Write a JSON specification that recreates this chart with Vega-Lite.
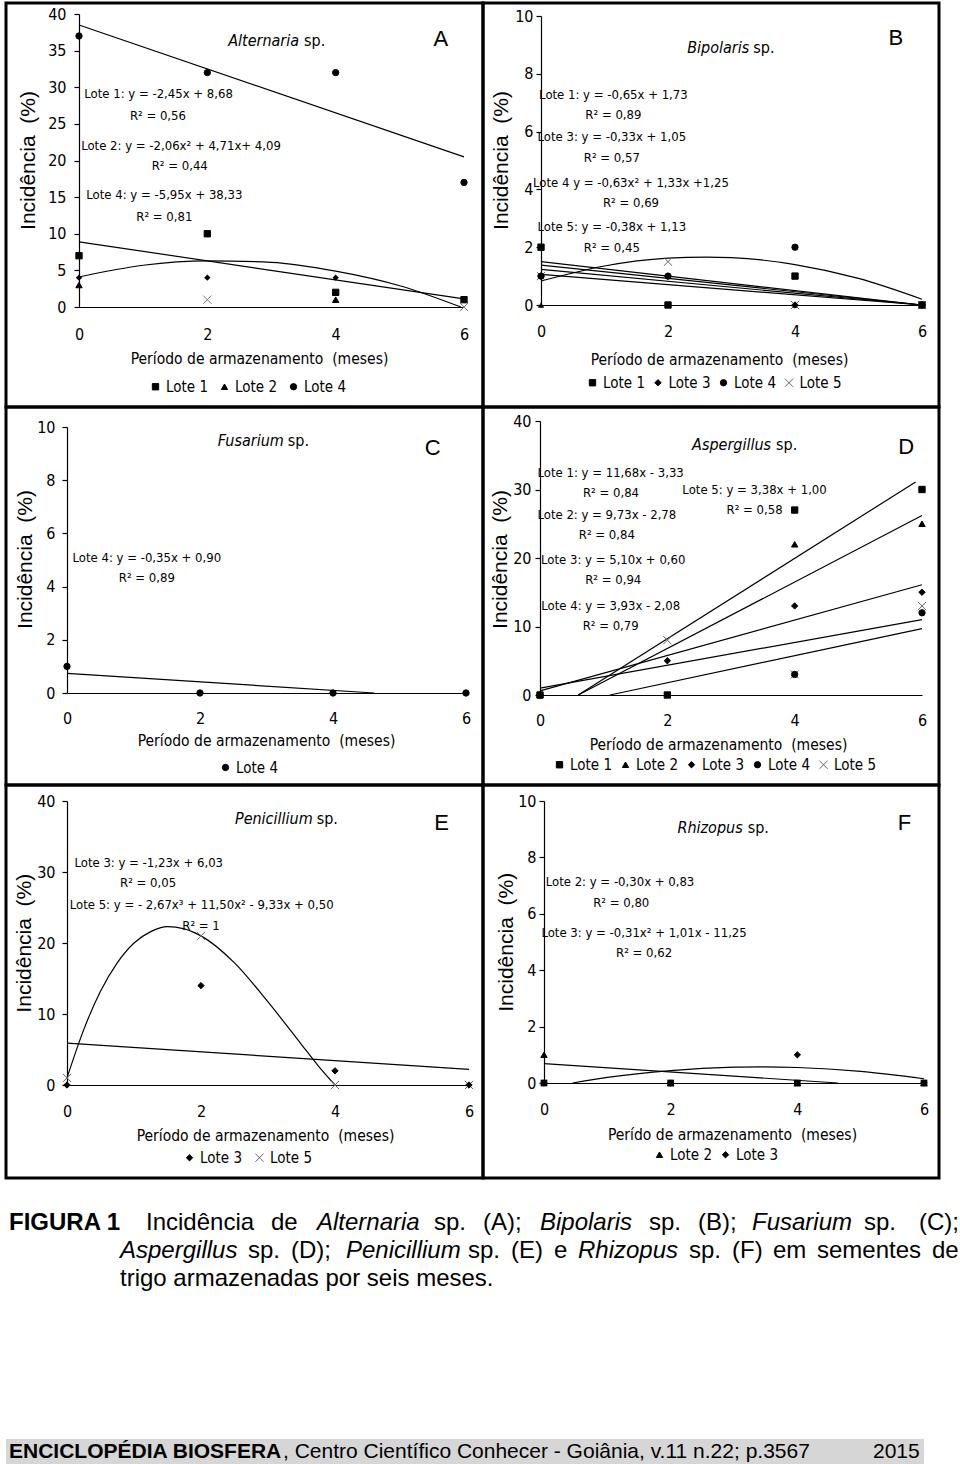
{
"$schema":"https://vega.github.io/schema/vega-lite/v6.json",
"padding":{"left":4,"top":1,"right":0,"bottom":0},
"background":"white",
"spacing":0,
"resolve":{"scale":{"shape":"independent","fill":"independent","stroke":"independent"},"legend":{"shape":"independent","fill":"independent","stroke":"independent"}},
"config":{
"view":{"stroke":"black","strokeWidth":3},
"axis":{"grid":false,"domainColor":"black","domainWidth":1.2,"tickColor":"black","tickWidth":1.2,"labelFont":"DejaVu Sans Condensed, sans-serif","labelFontSize":16,"labelColor":"black","titleFont":"DejaVu Sans Condensed, sans-serif","titleFontSize":15.5,"titleFontWeight":"normal","titleColor":"black","labelOverlap":false},
"axisX":{"ticks":false,"tickSize":0,"labelBaseline":"middle","labelAlign":"center","labelFlush":false,"titleBaseline":"middle","titleAlign":"center"},
"axisY":{"tickSize":5,"labelAlign":"right","labelBaseline":"middle","titleFont":"Liberation Sans, Arial, sans-serif","titleFontSize":21,"titleBaseline":"middle","titleAlign":"center","titleAngle":270},
"legend":{"labelFont":"DejaVu Sans Condensed, sans-serif","labelFontSize":15,"labelColor":"black","symbolSize":40,"symbolStrokeWidth":1,"labelOffset":3,"padding":0,"rowPadding":0},
"text":{"color":"black"}
},
"datasets":{
"A_pts":[
{"lote":"Lote 3","mes":0,"inc":4},{"lote":"Lote 3","mes":2,"inc":4},{"lote":"Lote 3","mes":4,"inc":4},
{"lote":"Lote 5","mes":2,"inc":1},{"lote":"Lote 5","mes":6,"inc":0},
{"lote":"Lote 2","mes":0,"inc":3},{"lote":"Lote 2","mes":4,"inc":1},
{"lote":"Lote 4","mes":0,"inc":37},{"lote":"Lote 4","mes":2,"inc":32},{"lote":"Lote 4","mes":4,"inc":32},{"lote":"Lote 4","mes":6,"inc":17},
{"lote":"Lote 1","mes":0,"inc":7},{"lote":"Lote 1","mes":2,"inc":10},{"lote":"Lote 1","mes":4,"inc":2},{"lote":"Lote 1","mes":6,"inc":1}
],
"A_fit":[
{"curva":"L4","mes":0,"inc":38.5},{"curva":"L4","mes":6,"inc":20.5},
{"curva":"L1","mes":0,"inc":8.9},{"curva":"L1","mes":6,"inc":1.1},
{"curva":"L2","mes":0,"inc":4.1},{"curva":"L2","mes":1,"inc":5.7},{"curva":"L2","mes":2,"inc":6.3},{"curva":"L2","mes":3,"inc":6.1},{"curva":"L2","mes":4,"inc":4.9},{"curva":"L2","mes":5,"inc":2.9},{"curva":"L2","mes":5.95,"inc":0}
],
"A_txt":[
{"tipo":"eq","txt":"Lote 1: y = -2,45x + 8,68","mes":1.24,"inc":29.1},
{"tipo":"eq","txt":"R² = 0,56","mes":1.23,"inc":26.1},
{"tipo":"eq","txt":"Lote 2: y = -2,06x² + 4,71x+ 4,09","mes":1.59,"inc":22.0},
{"tipo":"eq","txt":"R² = 0,44","mes":1.57,"inc":19.25},
{"tipo":"eq","txt":"Lote 4: y = -5,95x + 38,33","mes":1.33,"inc":15.3},
{"tipo":"eq","txt":"R² = 0,81","mes":1.33,"inc":12.3},
{"tipo":"gen","txt":"Alternaria","mes":3.43,"inc":36.3},
{"tipo":"letra","txt":"A","mes":5.64,"inc":36.6}
],
"B_pts":[
{"lote":"Lote 2","mes":0,"inc":0},{"lote":"Lote 2","mes":4,"inc":0},
{"lote":"Lote 5","mes":0,"inc":1},{"lote":"Lote 5","mes":2,"inc":1.5},{"lote":"Lote 5","mes":4,"inc":0},{"lote":"Lote 5","mes":6,"inc":0},
{"lote":"Lote 3","mes":0,"inc":1},{"lote":"Lote 3","mes":2,"inc":1},{"lote":"Lote 3","mes":4,"inc":0},{"lote":"Lote 3","mes":6,"inc":0},
{"lote":"Lote 4","mes":0,"inc":1},{"lote":"Lote 4","mes":2,"inc":1},{"lote":"Lote 4","mes":4,"inc":2},{"lote":"Lote 4","mes":6,"inc":0},
{"lote":"Lote 1","mes":0,"inc":2},{"lote":"Lote 1","mes":2,"inc":0},{"lote":"Lote 1","mes":4,"inc":1},{"lote":"Lote 1","mes":6,"inc":0}
],
"B_fit":[
{"curva":"L1","mes":0,"inc":1.5},{"curva":"L1","mes":6,"inc":0},
{"curva":"L2","mes":0,"inc":1.38},{"curva":"L2","mes":6,"inc":0},
{"curva":"L3","mes":0,"inc":1.23},{"curva":"L3","mes":6,"inc":0},
{"curva":"L4","mes":0,"inc":1.06},{"curva":"L4","mes":6,"inc":0},
{"curva":"C","mes":0,"inc":0.83},{"curva":"C","mes":1,"inc":1.35},{"curva":"C","mes":2,"inc":1.62},{"curva":"C","mes":2.6,"inc":1.66},{"curva":"C","mes":3,"inc":1.64},{"curva":"C","mes":4,"inc":1.4},{"curva":"C","mes":5,"inc":0.92},{"curva":"C","mes":6,"inc":0.2}
],
"B_txt":[
{"tipo":"eq","txt":"Lote 1: y = -0,65x + 1,73","mes":1.14,"inc":7.27},
{"tipo":"eq","txt":"R² = 0,89","mes":1.14,"inc":6.57},
{"tipo":"eq","txt":"Lote 3: y = -0,33x + 1,05","mes":1.115,"inc":5.81},
{"tipo":"eq","txt":"R² = 0,57","mes":1.115,"inc":5.09},
{"tipo":"eq","txt":"Lote 4 y = -0,63x² + 1,33x +1,25","mes":1.417,"inc":4.22},
{"tipo":"eq","txt":"R² = 0,69","mes":1.417,"inc":3.53},
{"tipo":"eq","txt":"Lote 5: y = -0,38x + 1,13","mes":1.115,"inc":2.7},
{"tipo":"eq","txt":"R² = 0,45","mes":1.115,"inc":1.97},
{"tipo":"gen","txt":"Bipolaris","mes":3.28,"inc":8.89},
{"tipo":"letra","txt":"B","mes":5.59,"inc":9.24}
],
"C_pts":[
{"lote":"Lote 4","mes":0,"inc":1},{"lote":"Lote 4","mes":2,"inc":0},{"lote":"Lote 4","mes":4,"inc":0},{"lote":"Lote 4","mes":6,"inc":0}
],
"C_fit":[
{"curva":"L4","mes":0,"inc":0.74},{"curva":"L4","mes":4.62,"inc":0}
],
"C_txt":[
{"tipo":"eq","txt":"Lote 4: y = -0,35x + 0,90","mes":1.2,"inc":5.08},
{"tipo":"eq","txt":"R² = 0,89","mes":1.2,"inc":4.32},
{"tipo":"gen","txt":"Fusarium","mes":3.26,"inc":9.47},
{"tipo":"letra","txt":"C","mes":5.5,"inc":9.21}
],
"D_pts":[
{"lote":"Lote 5","mes":2,"inc":8},{"lote":"Lote 5","mes":4,"inc":3},{"lote":"Lote 5","mes":6,"inc":13},
{"lote":"Lote 4","mes":0,"inc":0},{"lote":"Lote 4","mes":4,"inc":3},{"lote":"Lote 4","mes":6,"inc":12},
{"lote":"Lote 3","mes":0,"inc":0},{"lote":"Lote 3","mes":2,"inc":5},{"lote":"Lote 3","mes":4,"inc":13},{"lote":"Lote 3","mes":6,"inc":15},
{"lote":"Lote 2","mes":0,"inc":0},{"lote":"Lote 2","mes":4,"inc":22},{"lote":"Lote 2","mes":6,"inc":25},
{"lote":"Lote 1","mes":0,"inc":0},{"lote":"Lote 1","mes":2,"inc":0},{"lote":"Lote 1","mes":4,"inc":27},{"lote":"Lote 1","mes":6,"inc":30}
],
"D_fit":[
{"curva":"L1","mes":0.6,"inc":0},{"curva":"L1","mes":5.9,"inc":31.1},
{"curva":"L2","mes":0.6,"inc":0},{"curva":"L2","mes":6,"inc":26.2},
{"curva":"L3","mes":0,"inc":0.6},{"curva":"L3","mes":6,"inc":16.1},
{"curva":"L4","mes":1.1,"inc":0},{"curva":"L4","mes":6,"inc":9.7},
{"curva":"L5","mes":0,"inc":1.0},{"curva":"L5","mes":6,"inc":11.0}
],
"D_txt":[
{"tipo":"eq","txt":"Lote 1: y = 11,68x - 3,33","mes":1.11,"inc":32.45},
{"tipo":"eq","txt":"R² = 0,84","mes":1.115,"inc":29.53},
{"tipo":"eq","txt":"Lote 2: y = 9,73x - 2,78","mes":1.05,"inc":26.28},
{"tipo":"eq","txt":"R² = 0,84","mes":1.05,"inc":23.36},
{"tipo":"eq","txt":"Lote 3: y = 5,10x + 0,60","mes":1.15,"inc":19.71},
{"tipo":"eq","txt":"R² = 0,94","mes":1.15,"inc":16.79},
{"tipo":"eq","txt":"Lote 4: y = 3,93x - 2,08","mes":1.11,"inc":12.99},
{"tipo":"eq","txt":"R² = 0,79","mes":1.11,"inc":10.07},
{"tipo":"eq","txt":"Lote 5: y = 3,38x + 1,00","mes":3.37,"inc":29.93},
{"tipo":"eq","txt":"R² = 0,58","mes":3.37,"inc":27.0},
{"tipo":"gen","txt":"Aspergillus","mes":3.63,"inc":36.5},
{"tipo":"letra","txt":"D","mes":5.75,"inc":36.2}
],
"E_pts":[
{"lote":"Lote 5","mes":0,"inc":1},{"lote":"Lote 5","mes":2,"inc":21},{"lote":"Lote 5","mes":4,"inc":0},{"lote":"Lote 5","mes":6,"inc":0},
{"lote":"Lote 3","mes":0,"inc":0},{"lote":"Lote 3","mes":2,"inc":14},{"lote":"Lote 3","mes":4,"inc":2},{"lote":"Lote 3","mes":6,"inc":0}
],
"E_fit":[
{"curva":"L3","mes":0,"inc":5.9},{"curva":"L3","mes":6,"inc":2.2},
{"curva":"L5","mes":0,"inc":1},{"curva":"L5","mes":0.25,"inc":7.8},{"curva":"L5","mes":0.5,"inc":13.2},{"curva":"L5","mes":0.75,"inc":17.2},{"curva":"L5","mes":1,"inc":20},{"curva":"L5","mes":1.25,"inc":21.6},{"curva":"L5","mes":1.5,"inc":22.3},{"curva":"L5","mes":1.75,"inc":22.0},{"curva":"L5","mes":2,"inc":21},{"curva":"L5","mes":2.5,"inc":17.2},{"curva":"L5","mes":3,"inc":11.7},{"curva":"L5","mes":3.5,"inc":5.7},{"curva":"L5","mes":3.75,"inc":2.7},{"curva":"L5","mes":4,"inc":0}
],
"E_txt":[
{"tipo":"eq","txt":"Lote 3: y = -1,23x + 6,03","mes":1.22,"inc":31.31},
{"tipo":"eq","txt":"R² = 0,05","mes":1.21,"inc":28.41},
{"tipo":"eq","txt":"Lote 5: y = - 2,67x³ + 11,50x² - 9,33x + 0,50","mes":2.01,"inc":25.31},
{"tipo":"eq","txt":"R² = 1","mes":2.0,"inc":22.39},
{"tipo":"gen","txt":"Penicillium","mes":3.667,"inc":37.46},
{"tipo":"letra","txt":"E","mes":5.59,"inc":36.9}
],
"F_pts":[
{"lote":"Lote 2","mes":0,"inc":1},{"lote":"Lote 2","mes":2,"inc":0},{"lote":"Lote 2","mes":4,"inc":0},{"lote":"Lote 2","mes":6,"inc":0},
{"lote":"Lote 3","mes":0,"inc":0},{"lote":"Lote 3","mes":2,"inc":0},{"lote":"Lote 3","mes":4,"inc":1},{"lote":"Lote 3","mes":6,"inc":0},
{"lote":"Lote 1","mes":0,"inc":0},{"lote":"Lote 1","mes":2,"inc":0},{"lote":"Lote 1","mes":4,"inc":0},{"lote":"Lote 1","mes":6,"inc":0}
],
"F_fit":[
{"curva":"L2","mes":0,"inc":0.69},{"curva":"L2","mes":4.64,"inc":0},
{"curva":"L3","mes":0.45,"inc":0},{"curva":"L3","mes":1,"inc":0.2},{"curva":"L3","mes":2,"inc":0.44},{"curva":"L3","mes":3,"inc":0.56},{"curva":"L3","mes":3.4,"inc":0.575},{"curva":"L3","mes":4,"inc":0.55},{"curva":"L3","mes":5,"inc":0.41},{"curva":"L3","mes":6,"inc":0.15}
],
"F_txt":[
{"tipo":"eq","txt":"Lote 2: y = -0,30x + 0,83","mes":1.2,"inc":7.13},
{"tipo":"eq","txt":"R² = 0,80","mes":1.22,"inc":6.39},
{"tipo":"eq","txt":"Lote 3: y = -0,31x² + 1,01x - 11,25","mes":1.58,"inc":5.33},
{"tipo":"eq","txt":"R² = 0,62","mes":1.58,"inc":4.62},
{"tipo":"gen","txt":"Rhizopus","mes":3.137,"inc":9.05},
{"tipo":"letra","txt":"F","mes":5.69,"inc":9.21}
],
"cap":[
{"txt":"FIGURA 1","pos":8,"linha":1,"estilo":"b"},
{"txt":"Incidência","pos":145,"linha":1,"estilo":"n"},
{"txt":"de","pos":270,"linha":1,"estilo":"n"},
{"txt":"Alternaria","pos":316,"linha":1,"estilo":"i"},
{"txt":"sp.","pos":433,"linha":1,"estilo":"n"},
{"txt":"(A);","pos":482,"linha":1,"estilo":"n"},
{"txt":"Bipolaris","pos":539,"linha":1,"estilo":"i"},
{"txt":"sp.","pos":648,"linha":1,"estilo":"n"},
{"txt":"(B);","pos":697,"linha":1,"estilo":"n"},
{"txt":"Fusarium","pos":751,"linha":1,"estilo":"i"},
{"txt":"sp.","pos":863,"linha":1,"estilo":"n"},
{"txt":"(C);","pos":918,"linha":1,"estilo":"n"},
{"txt":"Aspergillus","pos":119,"linha":2,"estilo":"i"},
{"txt":"sp.","pos":247,"linha":2,"estilo":"n"},
{"txt":"(D);","pos":290,"linha":2,"estilo":"n"},
{"txt":"Penicillium","pos":345,"linha":2,"estilo":"i"},
{"txt":"sp.","pos":467,"linha":2,"estilo":"n"},
{"txt":"(E)","pos":510,"linha":2,"estilo":"n"},
{"txt":"e","pos":553,"linha":2,"estilo":"n"},
{"txt":"Rhizopus","pos":577,"linha":2,"estilo":"i"},
{"txt":"sp.","pos":688,"linha":2,"estilo":"n"},
{"txt":"(F)","pos":731,"linha":2,"estilo":"n"},
{"txt":"em","pos":772,"linha":2,"estilo":"n"},
{"txt":"sementes","pos":816,"linha":2,"estilo":"n"},
{"txt":"de","pos":931,"linha":2,"estilo":"n"},
{"txt":"trigo armazenadas por seis meses.","pos":119,"linha":3,"estilo":"n"}
],
"rodape":[
{"txt":"ENCICLOPÉDIA BIOSFERA","pos":8,"linha":1,"estilo":"fb"},
{"txt":", Centro Científico Conhecer - Goiânia, v.11 n.22; p.3567","pos":282,"linha":1,"estilo":"fn"},
{"txt":"2015","pos":872,"linha":1,"estilo":"fn"}
]
},
"vconcat":[
{"columns":2,"spacing":0,"bounds":"flush","align":"each",
"resolve":{"scale":{"shape":"independent","fill":"independent","stroke":"independent"},"legend":{"shape":"independent","fill":"independent","stroke":"independent"}},
"concat":[
{"width":477,"height":404,
"encoding":{
"x":{"field":"mes","type":"quantitative","scale":{"domain":[0,6],"range":[73,458],"nice":false,"zero":false},"axis":{"values":[0,2,4,6],"offset":-100,"labelPadding":27,"title":"Período de armazenamento\u00a0 (meses)","titleX":253,"titleY":51}},
"y":{"field":"inc","type":"quantitative","scale":{"domain":[0,40],"range":[304,11],"nice":false,"zero":false},"axis":{"values":[0,5,10,15,20,25,30,35,40],"offset":-73,"labelPadding":8,"title":"Incidência\u00a0 (%)","titleX":-51,"titleY":157}}
},
"layer":[
{"data":{"name":"A_fit"},"mark":{"type":"line","color":"black","strokeWidth":1.2,"interpolate":"monotone"},"encoding":{"detail":{"field":"curva"}}},
{"data":{"name":"A_pts"},"transform":[{"filter":{"field":"lote","equal":"Lote 3"}}],"mark":{"type":"point","shape":"diamond","filled":true,"color":"black","size":40,"opacity":1}},
{"data":{"name":"A_pts"},"transform":[{"filter":{"field":"lote","equal":"Lote 5"}}],"mark":{"type":"point","shape":"M-1.3,-1.3L1.3,1.3M1.3,-1.3L-1.3,1.3","filled":false,"color":"#777777","size":40,"strokeWidth":1,"opacity":1}},
{"data":{"name":"A_pts"},"transform":[{"filter":{"field":"lote","oneOf":["Lote 1","Lote 2","Lote 4"]}}],"mark":{"type":"point","filled":true,"size":40,"opacity":1,"strokeWidth":1},
"encoding":{
"shape":{"field":"lote","type":"nominal","scale":{"domain":["Lote 1","Lote 2","Lote 4"],"range":["square","triangle-up","circle"]},"legend":{"title":null,"orient":"none","legendX":142,"legendY":376,"direction":"horizontal","columnPadding":9}},
"fill":{"field":"lote","type":"nominal","scale":{"domain":["Lote 1","Lote 2","Lote 4"],"range":["black","black","black"]},"legend":{"title":null,"orient":"none","legendX":142,"legendY":376,"direction":"horizontal","columnPadding":9}},
"stroke":{"field":"lote","type":"nominal","scale":{"domain":["Lote 1","Lote 2","Lote 4"],"range":["black","black","black"]},"legend":{"title":null,"orient":"none","legendX":142,"legendY":376,"direction":"horizontal","columnPadding":9}}
}},
{"data":{"name":"A_txt"},"transform":[{"filter":{"field":"tipo","equal":"eq"}}],"mark":{"type":"text","font":"DejaVu Sans Condensed, sans-serif","fontSize":13,"align":"center","baseline":"middle"},"encoding":{"text":{"field":"txt"}}},
{"data":{"name":"A_txt"},"transform":[{"filter":{"field":"tipo","equal":"gen"}}],"mark":{"type":"text","font":"DejaVu Sans Condensed, sans-serif","fontSize":16,"fontStyle":"italic","align":"right","baseline":"middle"},"encoding":{"text":{"field":"txt"}}},
{"data":{"name":"A_txt"},"transform":[{"filter":{"field":"tipo","equal":"gen"}}],"mark":{"type":"text","text":"sp.","font":"DejaVu Sans Condensed, sans-serif","fontSize":16,"align":"left","dx":5,"baseline":"middle"}},
{"data":{"name":"A_txt"},"transform":[{"filter":{"field":"tipo","equal":"letra"}}],"mark":{"type":"text","font":"Liberation Sans, Arial, sans-serif","fontSize":22,"align":"center","baseline":"middle"},"encoding":{"text":{"field":"txt"}}}
]},
{"width":456,"height":404,
"encoding":{
"x":{"field":"mes","type":"quantitative","scale":{"domain":[0,6],"range":[58,439],"nice":false,"zero":false},"axis":{"values":[0,2,4,6],"offset":-102,"labelPadding":26,"title":"Período de armazenamento\u00a0 (meses)","titleX":236,"titleY":54}},
"y":{"field":"inc","type":"quantitative","scale":{"domain":[0,10],"range":[302,13],"nice":false,"zero":false},"axis":{"values":[0,2,4,6,8,10],"offset":-58,"labelPadding":3,"title":"Incidência\u00a0 (%)","titleX":-40,"titleY":157}}
},
"layer":[
{"data":{"name":"B_fit"},"mark":{"type":"line","color":"black","strokeWidth":1.2,"interpolate":"monotone"},"encoding":{"detail":{"field":"curva"}}},
{"data":{"name":"B_pts"},"transform":[{"filter":{"field":"lote","equal":"Lote 2"}}],"mark":{"type":"point","shape":"triangle-up","filled":true,"color":"black","size":40,"opacity":1}},
{"data":{"name":"B_pts"},"transform":[{"filter":{"field":"lote","oneOf":["Lote 1","Lote 3","Lote 4","Lote 5"]}}],"mark":{"type":"point","filled":true,"size":40,"opacity":1,"strokeWidth":1},
"encoding":{
"shape":{"field":"lote","type":"nominal","scale":{"domain":["Lote 1","Lote 3","Lote 4","Lote 5"],"range":["square","diamond","circle","M-1.3,-1.3L1.3,1.3M1.3,-1.3L-1.3,1.3"]},"legend":{"title":null,"orient":"none","legendX":102,"legendY":372,"direction":"horizontal","columnPadding":5.5}},
"fill":{"field":"lote","type":"nominal","scale":{"domain":["Lote 1","Lote 3","Lote 4","Lote 5"],"range":["black","black","black","transparent"]},"legend":{"title":null,"orient":"none","legendX":102,"legendY":372,"direction":"horizontal","columnPadding":5.5}},
"stroke":{"field":"lote","type":"nominal","scale":{"domain":["Lote 1","Lote 3","Lote 4","Lote 5"],"range":["black","black","black","#666666"]},"legend":{"title":null,"orient":"none","legendX":102,"legendY":372,"direction":"horizontal","columnPadding":5.5}}
}},
{"data":{"name":"B_txt"},"transform":[{"filter":{"field":"tipo","equal":"eq"}}],"mark":{"type":"text","font":"DejaVu Sans Condensed, sans-serif","fontSize":13,"align":"center","baseline":"middle"},"encoding":{"text":{"field":"txt"}}},
{"data":{"name":"B_txt"},"transform":[{"filter":{"field":"tipo","equal":"gen"}}],"mark":{"type":"text","font":"DejaVu Sans Condensed, sans-serif","fontSize":16,"fontStyle":"italic","align":"right","baseline":"middle"},"encoding":{"text":{"field":"txt"}}},
{"data":{"name":"B_txt"},"transform":[{"filter":{"field":"tipo","equal":"gen"}}],"mark":{"type":"text","text":"sp.","font":"DejaVu Sans Condensed, sans-serif","fontSize":16,"align":"left","dx":4,"baseline":"middle"}},
{"data":{"name":"B_txt"},"transform":[{"filter":{"field":"tipo","equal":"letra"}}],"mark":{"type":"text","font":"Liberation Sans, Arial, sans-serif","fontSize":22,"align":"center","baseline":"middle"},"encoding":{"text":{"field":"txt"}}}
]},
{"width":477,"height":378,
"encoding":{
"x":{"field":"mes","type":"quantitative","scale":{"domain":[0,6],"range":[61,460],"nice":false,"zero":false},"axis":{"values":[0,2,4,6],"offset":-92,"labelPadding":25,"title":"Período de armazenamento\u00a0 (meses)","titleX":260,"titleY":47}},
"y":{"field":"inc","type":"quantitative","scale":{"domain":[0,10],"range":[286,20],"nice":false,"zero":false},"axis":{"values":[0,2,4,6,8,10],"offset":-61,"labelPadding":7,"title":"Incidência\u00a0 (%)","titleX":-42,"titleY":152}}
},
"layer":[
{"data":{"name":"C_fit"},"mark":{"type":"line","color":"black","strokeWidth":1.2,"interpolate":"monotone"},"encoding":{"detail":{"field":"curva"}}},
{"data":{"name":"C_pts"},"mark":{"type":"point","filled":true,"size":40,"opacity":1,"strokeWidth":1},
"encoding":{
"shape":{"field":"lote","type":"nominal","scale":{"domain":["Lote 4"],"range":["circle"]},"legend":{"title":null,"orient":"none","legendX":212,"legendY":353,"direction":"horizontal","columnPadding":9}},
"fill":{"field":"lote","type":"nominal","scale":{"domain":["Lote 4"],"range":["black"]},"legend":{"title":null,"orient":"none","legendX":212,"legendY":353,"direction":"horizontal","columnPadding":9}},
"stroke":{"field":"lote","type":"nominal","scale":{"domain":["Lote 4"],"range":["black"]},"legend":{"title":null,"orient":"none","legendX":212,"legendY":353,"direction":"horizontal","columnPadding":9}}
}},
{"data":{"name":"C_txt"},"transform":[{"filter":{"field":"tipo","equal":"eq"}}],"mark":{"type":"text","font":"DejaVu Sans Condensed, sans-serif","fontSize":13,"align":"center","baseline":"middle"},"encoding":{"text":{"field":"txt"}}},
{"data":{"name":"C_txt"},"transform":[{"filter":{"field":"tipo","equal":"gen"}}],"mark":{"type":"text","font":"DejaVu Sans Condensed, sans-serif","fontSize":16,"fontStyle":"italic","align":"right","baseline":"middle"},"encoding":{"text":{"field":"txt"}}},
{"data":{"name":"C_txt"},"transform":[{"filter":{"field":"tipo","equal":"gen"}}],"mark":{"type":"text","text":"sp.","font":"DejaVu Sans Condensed, sans-serif","fontSize":16,"align":"left","dx":4,"baseline":"middle"}},
{"data":{"name":"C_txt"},"transform":[{"filter":{"field":"tipo","equal":"letra"}}],"mark":{"type":"text","font":"Liberation Sans, Arial, sans-serif","fontSize":22,"align":"center","baseline":"middle"},"encoding":{"text":{"field":"txt"}}}
]},
{"width":456,"height":378,
"encoding":{
"x":{"field":"mes","type":"quantitative","scale":{"domain":[0,6],"range":[57,439],"nice":false,"zero":false},"axis":{"values":[0,2,4,6],"offset":-90,"labelPadding":25,"title":"Período de armazenamento\u00a0 (meses)","titleX":235,"titleY":49}},
"y":{"field":"inc","type":"quantitative","scale":{"domain":[0,40],"range":[288,14],"nice":false,"zero":false},"axis":{"values":[0,10,20,30,40],"offset":-57,"labelPadding":4,"title":"Incidência\u00a0 (%)","titleX":-40,"titleY":152}}
},
"layer":[
{"data":{"name":"D_fit"},"mark":{"type":"line","color":"black","strokeWidth":1.2},"encoding":{"detail":{"field":"curva"}}},
{"data":{"name":"D_pts"},"mark":{"type":"point","filled":true,"size":40,"opacity":1,"strokeWidth":1},
"encoding":{
"shape":{"field":"lote","type":"nominal","scale":{"domain":["Lote 1","Lote 2","Lote 3","Lote 4","Lote 5"],"range":["square","triangle-up","diamond","circle","M-1.3,-1.3L1.3,1.3M1.3,-1.3L-1.3,1.3"]},"legend":{"title":null,"orient":"none","legendX":69,"legendY":350,"direction":"horizontal","columnPadding":6}},
"fill":{"field":"lote","type":"nominal","scale":{"domain":["Lote 1","Lote 2","Lote 3","Lote 4","Lote 5"],"range":["black","black","black","black","transparent"]},"legend":{"title":null,"orient":"none","legendX":69,"legendY":350,"direction":"horizontal","columnPadding":6}},
"stroke":{"field":"lote","type":"nominal","scale":{"domain":["Lote 1","Lote 2","Lote 3","Lote 4","Lote 5"],"range":["black","black","black","black","#666666"]},"legend":{"title":null,"orient":"none","legendX":69,"legendY":350,"direction":"horizontal","columnPadding":6}}
}},
{"data":{"name":"D_txt"},"transform":[{"filter":{"field":"tipo","equal":"eq"}}],"mark":{"type":"text","font":"DejaVu Sans Condensed, sans-serif","fontSize":13,"align":"center","baseline":"middle"},"encoding":{"text":{"field":"txt"}}},
{"data":{"name":"D_txt"},"transform":[{"filter":{"field":"tipo","equal":"gen"}}],"mark":{"type":"text","font":"DejaVu Sans Condensed, sans-serif","fontSize":16,"fontStyle":"italic","align":"right","baseline":"middle"},"encoding":{"text":{"field":"txt"}}},
{"data":{"name":"D_txt"},"transform":[{"filter":{"field":"tipo","equal":"gen"}}],"mark":{"type":"text","text":"sp.","font":"DejaVu Sans Condensed, sans-serif","fontSize":16,"align":"left","dx":5,"baseline":"middle"}},
{"data":{"name":"D_txt"},"transform":[{"filter":{"field":"tipo","equal":"letra"}}],"mark":{"type":"text","font":"Liberation Sans, Arial, sans-serif","fontSize":22,"align":"center","baseline":"middle"},"encoding":{"text":{"field":"txt"}}}
]},
{"width":477,"height":393,
"encoding":{
"x":{"field":"mes","type":"quantitative","scale":{"domain":[0,6],"range":[61,463],"nice":false,"zero":false},"axis":{"values":[0,2,4,6],"offset":-93,"labelPadding":26,"title":"Período de armazenamento\u00a0 (meses)","titleX":259,"titleY":50}},
"y":{"field":"inc","type":"quantitative","scale":{"domain":[0,40],"range":[300,16],"nice":false,"zero":false},"axis":{"values":[0,10,20,30,40],"offset":-61,"labelPadding":7,"title":"Incidência\u00a0 (%)","titleX":-43,"titleY":157.7}}
},
"layer":[
{"data":{"name":"E_fit"},"mark":{"type":"line","color":"black","strokeWidth":1.2,"interpolate":"monotone"},"encoding":{"detail":{"field":"curva"}}},
{"data":{"name":"E_pts"},"mark":{"type":"point","filled":true,"size":40,"opacity":1,"strokeWidth":1},
"encoding":{
"shape":{"field":"lote","type":"nominal","scale":{"domain":["Lote 3","Lote 5"],"range":["diamond","M-1.3,-1.3L1.3,1.3M1.3,-1.3L-1.3,1.3"]},"legend":{"title":null,"orient":"none","legendX":176,"legendY":365,"direction":"horizontal","columnPadding":10}},
"fill":{"field":"lote","type":"nominal","scale":{"domain":["Lote 3","Lote 5"],"range":["black","transparent"]},"legend":{"title":null,"orient":"none","legendX":176,"legendY":365,"direction":"horizontal","columnPadding":10}},
"stroke":{"field":"lote","type":"nominal","scale":{"domain":["Lote 3","Lote 5"],"range":["black","#666666"]},"legend":{"title":null,"orient":"none","legendX":176,"legendY":365,"direction":"horizontal","columnPadding":10}}
}},
{"data":{"name":"E_txt"},"transform":[{"filter":{"field":"tipo","equal":"eq"}}],"mark":{"type":"text","font":"DejaVu Sans Condensed, sans-serif","fontSize":13,"align":"center","baseline":"middle"},"encoding":{"text":{"field":"txt"}}},
{"data":{"name":"E_txt"},"transform":[{"filter":{"field":"tipo","equal":"gen"}}],"mark":{"type":"text","font":"DejaVu Sans Condensed, sans-serif","fontSize":16,"fontStyle":"italic","align":"right","baseline":"middle"},"encoding":{"text":{"field":"txt"}}},
{"data":{"name":"E_txt"},"transform":[{"filter":{"field":"tipo","equal":"gen"}}],"mark":{"type":"text","text":"sp.","font":"DejaVu Sans Condensed, sans-serif","fontSize":16,"align":"left","dx":4,"baseline":"middle"}},
{"data":{"name":"E_txt"},"transform":[{"filter":{"field":"tipo","equal":"letra"}}],"mark":{"type":"text","font":"Liberation Sans, Arial, sans-serif","fontSize":22,"align":"center","baseline":"middle"},"encoding":{"text":{"field":"txt"}}}
]},
{"width":456,"height":393,
"encoding":{
"x":{"field":"mes","type":"quantitative","scale":{"domain":[0,6],"range":[61,441],"nice":false,"zero":false},"axis":{"values":[0,2,4,6],"offset":-95,"labelPadding":26,"title":"Perído de armazenamento\u00a0 (meses)","titleX":249,"titleY":51}},
"y":{"field":"inc","type":"quantitative","scale":{"domain":[0,10],"range":[298,16],"nice":false,"zero":false},"axis":{"values":[0,2,4,6,8,10],"offset":-61,"labelPadding":3,"title":"Incidência\u00a0 (%)","titleX":-38,"titleY":156.8}}
},
"layer":[
{"data":{"name":"F_fit"},"mark":{"type":"line","color":"black","strokeWidth":1.2,"interpolate":"monotone"},"encoding":{"detail":{"field":"curva"}}},
{"data":{"name":"F_pts"},"transform":[{"filter":{"field":"lote","oneOf":["Lote 2","Lote 3"]}}],"mark":{"type":"point","filled":true,"size":40,"opacity":1,"strokeWidth":1},
"encoding":{
"shape":{"field":"lote","type":"nominal","scale":{"domain":["Lote 2","Lote 3"],"range":["triangle-up","diamond"]},"legend":{"title":null,"orient":"none","legendX":169,"legendY":362,"direction":"horizontal","columnPadding":6}},
"fill":{"field":"lote","type":"nominal","scale":{"domain":["Lote 2","Lote 3"],"range":["black","black"]},"legend":{"title":null,"orient":"none","legendX":169,"legendY":362,"direction":"horizontal","columnPadding":6}},
"stroke":{"field":"lote","type":"nominal","scale":{"domain":["Lote 2","Lote 3"],"range":["black","black"]},"legend":{"title":null,"orient":"none","legendX":169,"legendY":362,"direction":"horizontal","columnPadding":6}}
}},
{"data":{"name":"F_pts"},"transform":[{"filter":{"field":"lote","equal":"Lote 1"}}],"mark":{"type":"point","shape":"square","filled":true,"color":"black","size":45,"opacity":1}},
{"data":{"name":"F_txt"},"transform":[{"filter":{"field":"tipo","equal":"eq"}}],"mark":{"type":"text","font":"DejaVu Sans Condensed, sans-serif","fontSize":13,"align":"center","baseline":"middle"},"encoding":{"text":{"field":"txt"}}},
{"data":{"name":"F_txt"},"transform":[{"filter":{"field":"tipo","equal":"gen"}}],"mark":{"type":"text","font":"DejaVu Sans Condensed, sans-serif","fontSize":16,"fontStyle":"italic","align":"right","baseline":"middle"},"encoding":{"text":{"field":"txt"}}},
{"data":{"name":"F_txt"},"transform":[{"filter":{"field":"tipo","equal":"gen"}}],"mark":{"type":"text","text":"sp.","font":"DejaVu Sans Condensed, sans-serif","fontSize":16,"align":"left","dx":5,"baseline":"middle"}},
{"data":{"name":"F_txt"},"transform":[{"filter":{"field":"tipo","equal":"letra"}}],"mark":{"type":"text","font":"Liberation Sans, Arial, sans-serif","fontSize":22,"align":"center","baseline":"middle"},"encoding":{"text":{"field":"txt"}}}
]}
]},
{"width":960,"height":259,"view":{"stroke":null},
"data":{"name":"cap"},
"encoding":{
"x":{"field":"pos","type":"quantitative","scale":{"domain":[0,960],"range":[-5,955],"nice":false,"zero":false},"axis":null},
"y":{"field":"linha","type":"quantitative","scale":{"domain":[-0.536,8.714],"range":[0,259],"nice":false,"zero":false},"axis":null}
},
"layer":[
{"transform":[{"filter":{"field":"estilo","equal":"b"}}],"mark":{"type":"text","font":"Liberation Sans, Arial, sans-serif","fontSize":24,"fontWeight":"bold","align":"left","baseline":"middle"},"encoding":{"text":{"field":"txt"}}},
{"transform":[{"filter":{"field":"estilo","equal":"n"}}],"mark":{"type":"text","font":"Liberation Sans, Arial, sans-serif","fontSize":24,"align":"left","baseline":"middle"},"encoding":{"text":{"field":"txt"}}},
{"transform":[{"filter":{"field":"estilo","equal":"i"}}],"mark":{"type":"text","font":"Liberation Sans, Arial, sans-serif","fontSize":24,"fontStyle":"italic","align":"left","baseline":"middle"},"encoding":{"text":{"field":"txt"}}}
]},
{"width":918,"height":26,"view":{"stroke":null,"fill":"#d6d6d6"},
"data":{"name":"rodape"},
"encoding":{
"x":{"field":"pos","type":"quantitative","scale":{"domain":[0,960],"range":[-5,955],"nice":false,"zero":false},"axis":null},
"y":{"field":"linha","type":"quantitative","scale":{"domain":[0,2],"range":[0,26],"nice":false,"zero":false},"axis":null}
},
"layer":[
{"transform":[{"filter":{"field":"estilo","equal":"fb"}}],"mark":{"type":"text","font":"Liberation Sans, Arial, sans-serif","fontSize":21,"fontWeight":"bold","align":"left","baseline":"middle"},"encoding":{"text":{"field":"txt"}}},
{"transform":[{"filter":{"field":"estilo","equal":"fn"}}],"mark":{"type":"text","font":"Liberation Sans, Arial, sans-serif","fontSize":21,"align":"left","baseline":"middle"},"encoding":{"text":{"field":"txt"}}}
]}
]
}
